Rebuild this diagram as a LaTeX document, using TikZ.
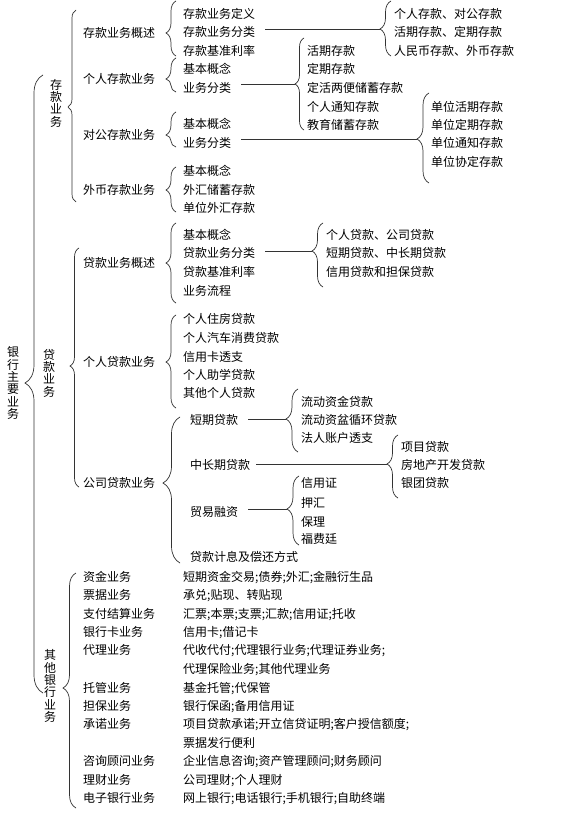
\documentclass[tikz,border=0pt]{standalone}
\usepackage{fontspec}
\setmainfont{Noto Sans CJK SC}
\usetikzlibrary{decorations.pathreplacing}
\newcommand{\fs}{\fontsize{12}{12.3}\selectfont}
% name, x of ends, amplitude, top y, bottom y, tip y
\newcommand{\mybrace}[6]{%
  \pgfmathsetmacro{\brasp}{(#5-#6)/(#5-#4)}%
  \draw[brc, decoration={brace, amplitude=#3pt, aspect=\brasp}] (#2,#5) -- (#2,#4);%
  \coordinate (#1) at ({#2-#3},#6);%
}
\tikzset{
  lbl/.style={anchor=west, inner sep=0pt, font=\fs, text height=10pt, text depth=1pt},
  vtxt/.style={align=center, inner sep=0pt, font=\fs},
  brc/.style={draw=black!80, line width=0.7pt, decorate},
  conn/.style={draw=black!80, line width=0.7pt, shorten <=10pt},
}
\begin{document}
\begin{tikzpicture}[x=1pt,y=-1pt]
\fill[white] (0,0) rectangle (560,813);
\useasboundingbox (0,0) rectangle (560,813);

% ---------- root ----------
\node[vtxt] (root) at (13,383) {银\\行\\主\\要\\业\\务};
\mybrace{Troot}{43}{18}{75}{693}{383}

% ---------- level 1 ----------
\node[vtxt] (ck) at (56,103) {存\\款\\业\\务};
\mybrace{Tck}{76}{8}{10}{202}{107}
\node[vtxt] (dk) at (49,373) {贷\\款\\业\\务};
\mybrace{Tdk}{79}{9}{248}{487}{366}
\node[vtxt] (qt) at (50,686) {其\\他\\银\\行\\业\\务};
\mybrace{Tqt}{76}{13}{573}{808}{688}

% ---------- 存款业务 ----------
\node[lbl] (ck1) at (83,33) {存款业务概述};
\node[lbl] (ck2) at (83,79) {个人存款业务};
\node[lbl] (ck3) at (83,135) {对公存款业务};
\node[lbl] (ck4) at (83,190) {外币存款业务};

\mybrace{Tck1}{176}{10}{1}{56}{33}
\node[lbl] (ck1a) at (183,14) {存款业务定义};
\node[lbl] (ck1b) at (183,32) {存款业务分类};
\node[lbl] (ck1c) at (183,51) {存款基准利率};
\mybrace{Tck1b}{391}{11}{1}{56}{29}
\draw[conn] (ck1b.east |- Tck1b) -- (Tck1b);
\node[lbl] (ck1b1) at (394,14) {个人存款、对公存款};
\node[lbl] (ck1b2) at (394,32) {活期存款、定期存款};
\node[lbl] (ck1b3) at (394,51) {人民币存款、外币存款};

\mybrace{Tck2}{176}{10}{58}{92}{79}
\node[lbl] (ck2a) at (183,69) {基本概念};
\node[lbl] (ck2b) at (183,88) {业务分类};
\mybrace{Tck2b}{304}{9}{38}{130}{84}
\draw[conn] (ck2b.east |- Tck2b) -- (Tck2b);
\node[lbl] (ck2b1) at (307,51) {活期存款};
\node[lbl] (ck2b2) at (307,69) {定期存款};
\node[lbl] (ck2b3) at (307,88) {定活两便储蓄存款};
\node[lbl] (ck2b4) at (307,107) {个人通知存款};
\node[lbl] (ck2b5) at (307,125) {教育储蓄存款};

\mybrace{Tck3}{176}{10}{112}{147}{135}
\node[lbl] (ck3a) at (183,124) {基本概念};
\node[lbl] (ck3b) at (183,143) {业务分类};
\mybrace{Tck3b}{429}{12}{93}{183}{139}
\draw[conn] (ck3b.east |- Tck3b) -- (Tck3b);
\node[lbl] (ck3b1) at (431,107) {单位活期存款};
\node[lbl] (ck3b2) at (431,125) {单位定期存款};
\node[lbl] (ck3b3) at (431,143) {单位通知存款};
\node[lbl] (ck3b4) at (431,162) {单位协定存款};

\mybrace{Tck4}{176}{10}{167}{212}{190}
\node[lbl] (ck4a) at (183,171) {基本概念};
\node[lbl] (ck4b) at (183,190) {外汇储蓄存款};
\node[lbl] (ck4c) at (183,208) {单位外汇存款};

% ---------- 贷款业务 ----------
\node[lbl] (dk1) at (83,263) {贷款业务概述};
\node[lbl] (dk2) at (83,362) {个人贷款业务};
\node[lbl] (dk3) at (83,483) {公司贷款业务};

\mybrace{Tdk1}{176}{10}{223}{303}{263}
\node[lbl] (dk1a) at (183,235) {基本概念};
\node[lbl] (dk1b) at (183,253) {贷款业务分类};
\node[lbl] (dk1c) at (183,272) {贷款基准利率};
\node[lbl] (dk1d) at (183,291) {业务流程};
\mybrace{Tdk1b}{323}{11}{223}{287}{251}
\draw[conn] (dk1b.east |- Tdk1b) -- (Tdk1b);
\node[lbl] (dk1b1) at (326,235) {个人贷款、公司贷款};
\node[lbl] (dk1b2) at (326,253) {短期贷款、中长期贷款};
\node[lbl] (dk1b3) at (326,272) {信用贷款和担保贷款};

\mybrace{Tdk2}{176}{10}{315}{408}{362}
\node[lbl] (dk2a) at (183,319) {个人住房贷款};
\node[lbl] (dk2b) at (183,338) {个人汽车消费贷款};
\node[lbl] (dk2c) at (183,357) {信用卡透支};
\node[lbl] (dk2d) at (183,375) {个人助学贷款};
\node[lbl] (dk2e) at (183,393) {其他个人贷款};

\mybrace{Tdk3}{180}{17}{417}{563}{483}
\node[lbl] (dk3a) at (190,420) {短期贷款};
\node[lbl] (dk3b) at (190,465) {中长期贷款};
\node[lbl] (dk3c) at (190,512) {贸易融资};
\node[lbl] (dk3d) at (190,557) {贷款计息及偿还方式};

\mybrace{Tdk3a}{298}{12}{389}{452}{419}
\draw[conn] (dk3a.east |- Tdk3a) -- (Tdk3a);
\node[lbl] (dk3a1) at (301,402) {流动资金贷款};
\node[lbl] (dk3a2) at (301,420) {流动资盆循环贷款};
\node[lbl] (dk3a3) at (301,438) {法人账户透支};

\mybrace{Tdk3b}{398}{11}{435}{498}{464}
\draw[conn, shorten <=6pt] (dk3b.east |- Tdk3b) -- (Tdk3b);
\node[lbl] (dk3b1) at (401,447) {项目贷款};
\node[lbl] (dk3b2) at (401,465) {房地产开发贷款};
\node[lbl] (dk3b3) at (401,483) {银团贷款};

\mybrace{Tdk3c}{299}{12}{476}{545}{509}
\draw[conn] (dk3c.east |- Tdk3c) -- (Tdk3c);
\node[lbl] (dk3c1) at (301,483) {信用证};
\node[lbl] (dk3c2) at (301,503) {押汇};
\node[lbl] (dk3c3) at (301,522) {保理};
\node[lbl] (dk3c4) at (301,539) {福费廷};

% ---------- 其他银行业务 ----------
\node[lbl] (q1) at (83,577) {资金业务};
\node[lbl] (q2) at (83,595) {票据业务};
\node[lbl] (q3) at (83,614) {支付结算业务};
\node[lbl] (q4) at (83,632) {银行卡业务};
\node[lbl] (q5) at (83,650) {代理业务};
\node[lbl] (q6) at (83,688) {托管业务};
\node[lbl] (q7) at (83,706) {担保业务};
\node[lbl] (q8) at (83,724) {承诺业务};
\node[lbl] (q9) at (83,761) {咨询顾问业务};
\node[lbl] (q10) at (83,780) {理财业务};
\node[lbl] (q11) at (83,798) {电子银行业务};

\node[lbl] (d1) at (183,577) {短期资金交易;债券;外汇;金融衍生品};
\node[lbl] (d2) at (183,595) {承兑;贴现、转贴现};
\node[lbl] (d3) at (183,614) {汇票;本票;支票;汇款;信用证;托收};
\node[lbl] (d4) at (183,632) {信用卡;借记卡};
\node[lbl] (d5) at (183,650) {代收代付;代理银行业务;代理证券业务;};
\node[lbl] (d5b) at (183,669) {代理保险业务;其他代理业务};
\node[lbl] (d6) at (183,688) {基金托管;代保管};
\node[lbl] (d7) at (183,706) {银行保函;备用信用证};
\node[lbl] (d8) at (183,724) {项目贷款承诺;开立信贷证明;客户授信额度;};
\node[lbl] (d8b) at (183,743) {票据发行便利};
\node[lbl] (d9) at (183,761) {企业信息咨询;资产管理顾问;财务顾问};
\node[lbl] (d10) at (183,780) {公司理财;个人理财};
\node[lbl] (d11) at (183,798) {网上银行;电话银行;手机银行;自助终端};
\end{tikzpicture}
\end{document}
